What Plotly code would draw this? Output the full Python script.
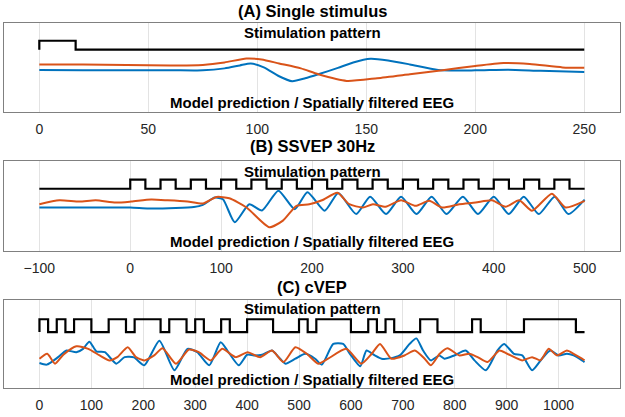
import plotly.graph_objects as go

FRAME = 1000 / 60  # ms per video frame (60 Hz)

# ---------------- Panel A: single stimulus ----------------
A_bits = [1] + [0] * 14
A_blue_t = [0, 20, 40, 60, 75, 85, 92, 97, 103, 110, 116, 122, 128, 137, 144, 152, 160, 170, 183, 200, 215, 230, 250]
A_blue_v = [42.3, 42, 42, 42.2, 42, 44, 47, 49, 45, 36, 31, 34, 38, 44.5, 50, 53.7, 52, 48, 42.3, 42, 42.7, 41.5, 40.3]
A_orange_t = [0, 20, 40, 60, 75, 85, 95, 102, 110, 120, 128, 141, 155, 170, 185, 200, 213, 225, 240, 250]
A_orange_v = [48, 48, 47.5, 47, 47.5, 50, 54, 53, 49, 44, 38, 31.3, 34, 38, 42, 46.5, 49.5, 48.5, 45, 44.7]
A_ticks = [0, 50, 100, 150, 200, 250]

# ---------------- Panel B: SSVEP 30 Hz ----------------
B_bits = [1, 0] * 15
B_blue_t = [-100, -50, 0, 20, 50, 70, 80, 93, 102, 115, 131, 145, 163, 181, 195, 214, 229, 248.6, 264, 281.5,
            298, 315, 331.6, 348, 366, 382.6, 400, 416.5, 433, 449.5, 467, 482, 500]
B_blue_v = [44, 44, 44, 43, 43.5, 44.5, 46.7, 54, 52.3, 29, 47.3, 41, 61, 42.3, 59.5, 40.7, 58.7, 37.3, 55, 37.3,
            55, 37.3, 55, 37.3, 55, 37.3, 55, 37.3, 55, 37.3, 55, 37.3, 52]
B_orange_t = [-100, -78, -56, -38, -16, 1, 23, 41, 63, 80, 95, 109, 128, 153, 168, 183, 197, 211, 228, 241, 256,
              267, 281, 298, 314, 329, 343, 362, 380, 398, 413, 428, 442, 464, 479, 500]
B_orange_v = [47.3, 51.3, 50, 51.3, 49, 50, 52, 51.3, 50, 48, 54.7, 53.3, 44, 24, 30.7, 45.7, 47.3, 51.3, 59, 47.3, 44,
              47.3, 44.7, 51.3, 45.7, 50.7, 44, 47.3, 49, 51.3, 44.7, 51.3, 40.7, 58, 44, 50.7]
B_ticks = [-100, 0, 100, 200, 300, 400, 500]

# ---------------- Panel C: cVEP (63-bit code) ----------------
C_bits = [1, 0, 1, 0, 1, 1, 0, 0, 1, 1, 0, 1, 1, 1, 0, 1, 1, 0, 1, 0, 0, 1, 0, 0, 1, 1, 1, 0, 0, 0, 1, 0,
          1, 1, 1, 1, 0, 0, 1, 0, 1, 0, 0, 0, 1, 1, 0, 0, 0, 0, 1, 0, 0, 0, 0, 0, 1, 1, 1, 1, 1, 1, 0]
C_blue_t = [0, 14, 36, 52, 71, 84, 96, 110, 126, 148, 164, 182, 202, 231, 260, 285, 304, 327, 349, 362, 384, 400,
            413, 429, 448, 461, 474, 493, 512, 531, 544, 566, 585, 598, 618, 630, 646, 659, 678, 694, 713, 726,
            739, 754, 770, 780, 799, 821, 838, 860, 882, 895, 914, 930, 949, 968, 984, 1000, 1016, 1029, 1045, 1050]
C_blue_v = [25.3, 23.7, 31.3, 38, 36.3, 39.7, 47, 37, 36.3, 24.7, 31.3, 31, 23, 48, 18, 39.7, 36.3, 23, 46.3, 38,
            23, 33.7, 33, 33.7, 38, 31.3, 24.7, 29.7, 34.7, 29.7, 23.7, 44.7, 44.7, 34.7, 22, 38, 33, 29.7, 30.3,
            33, 44.7, 50.3, 38, 28, 33, 29.7, 33, 38, 28, 18, 38, 44.7, 34.7, 33, 18, 29.7, 38, 33, 34.7, 33, 28, 26.3]
C_orange_t = [0, 15, 30, 46, 71, 94, 116, 135, 150, 170, 186, 202, 221, 237, 263, 288, 307, 330, 352, 378, 401,
              425, 448, 470, 493, 515, 537, 556, 591, 620, 640, 656, 678, 703, 723, 742, 754, 771, 786, 809, 828,
              844, 863, 886, 901, 930, 949, 965, 981, 997, 1016, 1029, 1045, 1050]
C_orange_v = [29.7, 34.7, 24.7, 33.7, 42.3, 39.7, 33, 28, 31.3, 41.3, 31.3, 28, 33, 40.3, 24.7, 39, 36.3, 28, 39.7,
              31.3, 36.3, 31.3, 38, 26.3, 41.3, 34.7, 24.7, 29.7, 39.7, 24.7, 34.7, 44.7, 29.7, 33, 38, 29.7, 23,
              34.7, 40.3, 33, 34.7, 31.3, 26.3, 38, 34.7, 28, 31.3, 28, 39.7, 33, 38, 34.7, 29.7, 28]
C_ticks = list(range(0, 1001, 100))

TITLES = ["(A) Single stimulus", "(B) SSVEP 30Hz", "(C) cVEP"]
STIM_LABEL = "Stimulation pattern"
EEG_LABEL = "Model prediction / Spatially filtered EEG"

BLUE = "#0072BD"
ORANGE = "#D95319"
FONT = "Liberation Sans, Arial, sans-serif"


def stim_xy(bits, t0, start):
    xs = [start, t0]
    ys = [0, bits[0]]
    for k, b in enumerate(bits):
        xs.append(t0 + k * FRAME)
        ys.append(b)
    xs.append(t0 + len(bits) * FRAME)
    ys.append(bits[-1])
    return xs, ys


panels = [
    dict(bits=A_bits, t0=0, start=0, bt=A_blue_t, bv=A_blue_v, ot=A_orange_t, ov=A_orange_v,
         ticks=A_ticks, xr=[-16.2, 266.4], yr=[0, 90], low=63, step=9,
         dom=[0.7568, 1.0], title_y=1.034, stim_y=0.889, eeg_y=0.106),
    dict(bits=B_bits, t0=0, start=-100, bt=B_blue_t, bv=B_blue_v, ot=B_orange_t, ov=B_orange_v,
         ticks=B_ticks, xr=[-138.9, 538.9], yr=[0, 91], low=63, step=9.3,
         dom=[0.3757, 0.6216], title_y=0.662, stim_y=0.887, eeg_y=0.099),
    dict(bits=C_bits, t0=0, start=0, bt=C_blue_t, bv=C_blue_v, ot=C_orange_t, ov=C_orange_v,
         ticks=C_ticks, xr=[-68.3, 1118.3], yr=[0, 89], low=56.7, step=13,
         dom=[0.0, 0.2405], title_y=0.278, stim_y=0.905, eeg_y=0.10),
]

fig = go.Figure()
annotations = []
for i, p in enumerate(panels):
    n = "" if i == 0 else str(i + 1)
    xa, ya = "x" + n, "y" + n
    sx, sy = stim_xy(p["bits"], p["t0"], p["start"])
    sy = [p["low"] + p["step"] * v for v in sy]
    fig.add_trace(go.Scatter(x=sx, y=sy, mode="lines", line=dict(color="black", width=2.2, shape="hv"),
                             xaxis=xa, yaxis=ya, showlegend=False, hoverinfo="skip"))
    fig.add_trace(go.Scatter(x=p["bt"], y=p["bv"], mode="lines",
                             line=dict(color=BLUE, width=2, shape="spline", smoothing=0.6),
                             xaxis=xa, yaxis=ya, showlegend=False))
    fig.add_trace(go.Scatter(x=p["ot"], y=p["ov"], mode="lines",
                             line=dict(color=ORANGE, width=2, shape="spline", smoothing=0.6),
                             xaxis=xa, yaxis=ya, showlegend=False))
    fig.layout["xaxis" + n] = dict(
        domain=[0, 1], anchor=ya, range=p["xr"], tickvals=p["ticks"], showgrid=True, gridcolor="#e3e3e3",
        gridwidth=1, zeroline=False, showline=True, mirror=True, linecolor="#808080", linewidth=1,
        ticks="", tickfont=dict(size=14, color="#262626", family=FONT), ticklabelstandoff=4)
    fig.layout["yaxis" + n] = dict(
        domain=p["dom"], anchor=xa, range=p["yr"], showgrid=False, zeroline=False, showline=True,
        mirror=True, linecolor="#808080", linewidth=1, showticklabels=False, ticks="")
    annotations.append(dict(text="<b>" + TITLES[i] + "</b>", x=0.5, y=p["title_y"], xref="paper", yref="paper",
                            showarrow=False, font=dict(size=16.5, color="black", family=FONT),
                            xanchor="center", yanchor="middle"))
    annotations.append(dict(text="<b>" + STIM_LABEL + "</b>", x=0.5, y=p["stim_y"], xref=xa + " domain",
                            yref=ya + " domain", showarrow=False, font=dict(size=15, color="black", family=FONT),
                            xanchor="center", yanchor="middle"))
    annotations.append(dict(text="<b>" + EEG_LABEL + "</b>", x=0.5, y=p["eeg_y"], xref=xa + " domain",
                            yref=ya + " domain", showarrow=False, font=dict(size=15, color="black", family=FONT),
                            xanchor="center", yanchor="middle"))

fig.update_layout(width=625, height=417, margin=dict(l=4, r=4, t=23, b=24),
                  paper_bgcolor="white", plot_bgcolor="white", annotations=annotations,
                  font=dict(family=FONT, color="black"))
fig.write_html("out.html", config={"displayModeBar": False},
               post_script="document.body.style.margin='0';document.body.style.overflow='hidden';")
